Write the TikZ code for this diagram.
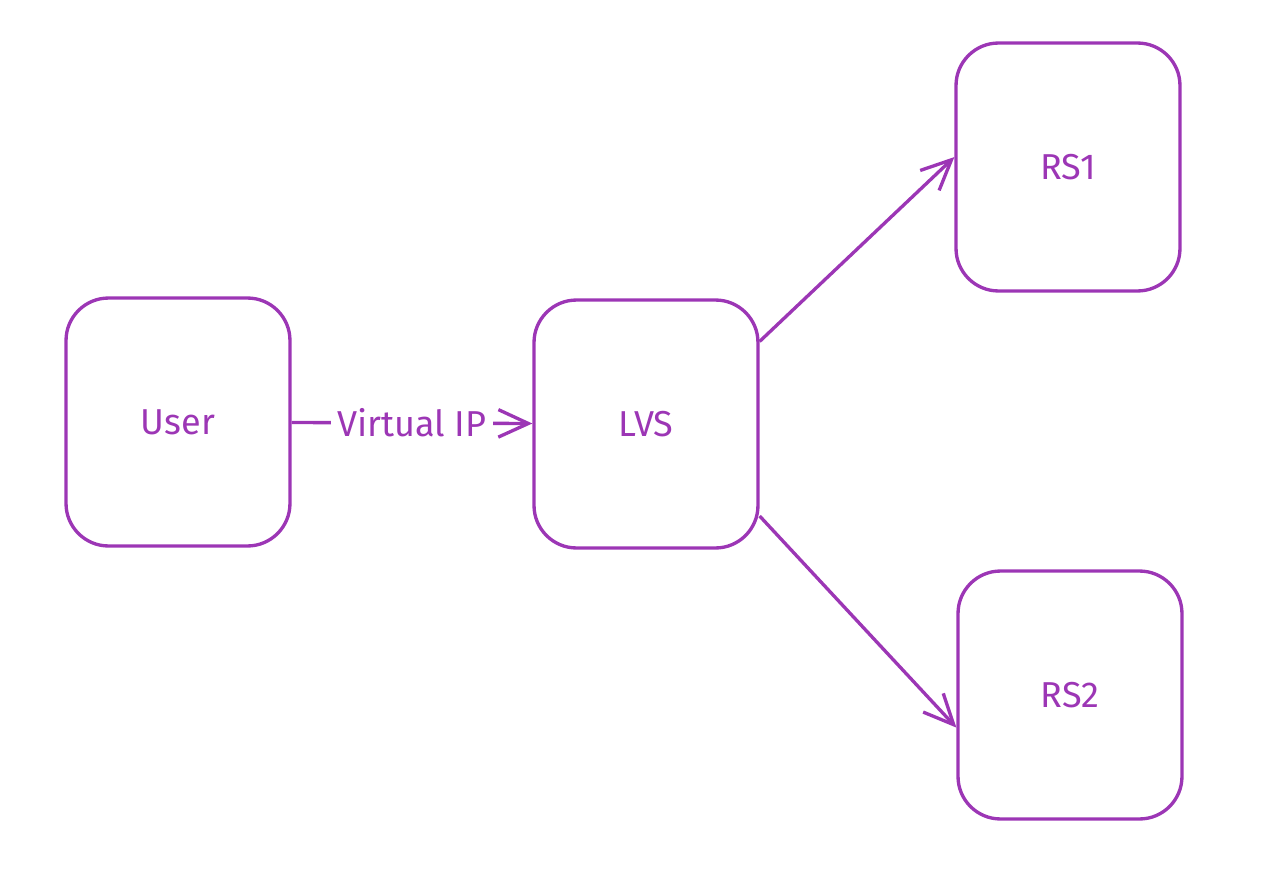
\documentclass[tikz,border=0pt]{standalone}
\usepackage{fontspec}
\setmainfont{Fira Sans}
\usetikzlibrary{arrows.meta, positioning}
\definecolor{lvspurple}{RGB}{156, 54, 181}
\begin{document}
\begin{tikzpicture}[x=0.02cm, y=-0.02cm, font=\fontsize{20.5}{24}\selectfont, >={Straight Barb[length=0.6cm, width=0.55cm, line width=1.9pt]},
      b/.style={draw=lvspurple, line width=1.9pt, rounded corners=0.85cm, text=lvspurple,
        minimum width=4.48cm, minimum height=4.96cm},
      link/.style={->, draw=lvspurple, line width=1.9pt}]
    \useasboundingbox (0,0) rectangle (1262,869);
    \node[b] (user) at (178, 422) {User};
    \node[b] (lvs) at (646, 424) {LVS};
    \node[b] (rs1) at (1068, 167) {RS1};
    \node[b] (rs2) at (1070, 695) {RS2};
    \draw[link] (user) -- node[fill=white, text=lvspurple, inner sep=4pt] {Virtual IP} (lvs);
    \draw[link] (lvs.36) -- (rs1.175);
    \draw[link] (lvs.-39) -- (rs2.196);
  \end{tikzpicture}
\end{document}
